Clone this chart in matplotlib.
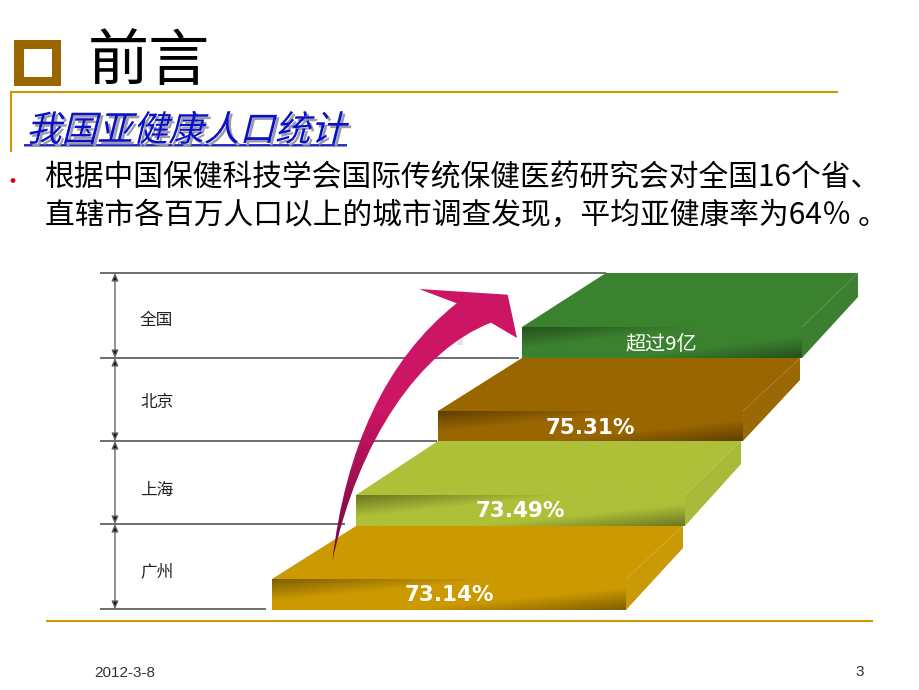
import numpy as np
import matplotlib
matplotlib.use("Agg")
import matplotlib.pyplot as plt
from matplotlib.colors import to_rgb, to_rgba
from matplotlib.patches import Polygon, Rectangle, PathPatch, Circle
from matplotlib.path import Path
from matplotlib.patheffects import AbstractPathEffect
from matplotlib.transforms import Affine2D

CJK = ['Noto Sans CJK SC', 'DejaVu Sans']
plt.rcParams['font.family'] = CJK

# ---- content ----
title = "前言"
subtitle = "我国亚健康人口统计"
body_lines = ["根据中国保健科技学会国际传统保健医药研究会对全国16个省、",
              "直辖市各百万人口以上的城市调查发现，平均亚健康率为64％ 。"]
regions = ["广州", "上海", "北京", "全国"]
step_labels = ["73.14%", "73.49%", "75.31%", "超过9亿"]
footer_date = "2012-3-8"
page_no = "3"

# ---- layout (pixels) ----
step_colors = ["#CC9900", "#AEBF38", "#996600", "#3B822F"]
side_colors = ["#C99A06", "#A9B93A", "#9A6804", "#3C7F30"]
front_x0 = [272, 356, 438, 522]
front_x1 = [626, 685, 743, 802]
front_top = [579, 495, 411, 327]
front_bot = [610, 526, 441, 358]
back_x0 = [356, 438, 522, 606]
back_x1 = [683, 741, 800, 858]
back_y = [526, 441, 358, 273]
side_bot = [548, 464, 380, 297]
label_xc = [449, 520, 590, 661]
label_yc = [595, 511, 428, 344]
guide_y = [609, 524, 441, 358, 273]
guide_x1 = [266, 345, 437, 519, 606]
region_y = [572, 490, 403, 320]

fig = plt.figure(figsize=(9.2, 6.9), dpi=100)
ax = fig.add_axes([0, 0, 1, 1])
ax.set_axis_off()


class Shear(AbstractPathEffect):
    def __init__(self, deg=14, dx=0, dy=0, color=None):
        self.deg, self.dx, self.dy = deg, dx, dy
        self.color = to_rgba(color) if color else None

    def draw_path(self, renderer, gc, tpath, affine, rgbFace=None):
        tr = Affine2D().skew_deg(self.deg, 0) + affine + Affine2D().translate(self.dx, self.dy)
        renderer.draw_path(gc, tpath, tr, self.color if self.color is not None else rgbFace)


# header
ax.add_patch(Rectangle((14, 40), 47, 46, fc="#996600", ec="none"))
ax.add_patch(Rectangle((24, 49), 28, 28, fc="white", ec="none"))
ax.text(88, 63, title, fontsize=44, color="black", ha="left", va="center")
ax.plot([10.5, 838], [91.5, 91.5], color="#CC9900", lw=1.5, solid_capstyle="butt")
ax.plot([11, 11], [91, 152], color="#CC9900", lw=1.5, solid_capstyle="butt")
ax.text(26, 141, subtitle, fontsize=25.6, color="#0A10C8", ha="left", va="baseline",
        path_effects=[Shear(14, 2.5, -2.5, "#9A9AA8"), Shear(14)])
ax.plot([24, 347], [146, 146], color="#9A9AA8", lw=1.5, solid_capstyle="butt")
ax.plot([24, 347], [145, 145], color="#0A10C8", lw=1.2, solid_capstyle="butt")

# body
ax.add_patch(Circle((13, 180.5), 2.4, fc="#E0000A", ec="none"))
ax.text(45, 177, body_lines[0], fontsize=21.4, color="black", ha="left", va="center")
ax.text(45, 215, body_lines[1], fontsize=21.4, color="black", ha="left", va="center")

# guides and dimension arrows
for y, x1 in zip(guide_y, guide_x1):
    ax.plot([100, x1], [y, y], color="#555555", lw=1.2, solid_capstyle="butt", zorder=1)
for top, bot in zip(guide_y[1:], guide_y[:-1]):
    ax.annotate("", xy=(115, top), xytext=(115, bot),
                arrowprops=dict(arrowstyle="<|-|>,head_length=0.45,head_width=0.2",
                                lw=1.0, shrinkA=0, shrinkB=0, ec="#666666", fc="#111111"), zorder=2)
for name, y in zip(regions, region_y):
    ax.text(140, y, name, fontsize=12, color="#222222", ha="left", va="center")


def front_image(color, w=120, h=40):
    rgb = np.array(to_rgb(color))
    u, v = np.meshgrid(np.linspace(0, 1, w), np.linspace(0, 1, h))
    tl = np.clip(1 - (u * 1.6 + v * 1.4), 0, 1)
    br = np.clip(1 - ((1 - u) * 1.6 + (1 - v) * 1.4), 0, 1)
    dark = 0.38 * np.maximum(tl, br)
    return rgb[None, None, :] * (1 - dark[..., None])


# steps
for i in range(len(step_labels)):
    fx0, fx1, ft, fb = front_x0[i], front_x1[i], front_top[i], front_bot[i]
    ax.add_patch(Polygon([(fx0, ft), (back_x0[i], back_y[i]), (back_x1[i], back_y[i]), (fx1, ft)],
                         fc=step_colors[i], ec="none", zorder=3))
    ax.add_patch(Polygon([(fx1, ft), (back_x1[i], back_y[i]), (back_x1[i], side_bot[i]), (fx1, fb)],
                         fc=side_colors[i], ec="none", zorder=3))
    ax.imshow(front_image(step_colors[i]), extent=(fx0, fx1, fb, ft), origin="upper",
              aspect="auto", zorder=3.5, interpolation="bilinear")
    if i < 3:
        ax.text(label_xc[i], label_yc[i], step_labels[i], fontsize=15.5, fontweight="bold",
                family="DejaVu Sans", color="white", ha="center", va="center", zorder=5)
    else:
        ax.text(label_xc[i], label_yc[i], step_labels[i], fontsize=14.5, color="white",
                ha="center", va="center", zorder=5)

# speck
ax.add_patch(Rectangle((457, 338), 6, 7, fc="#E4E4E4", ec="none", zorder=2))

# arrow
verts = [(332.3, 561.7),
         (345, 450), (385, 360), (456.7, 303.3),
         (419, 289), (507.7, 294.7), (517, 338), (491, 322.7),
         (420, 350), (358, 440), (332.3, 561.7),
         (332.3, 561.7)]
codes = [Path.MOVETO,
         Path.CURVE4, Path.CURVE4, Path.CURVE4,
         Path.LINETO, Path.LINETO, Path.LINETO, Path.LINETO,
         Path.CURVE4, Path.CURVE4, Path.CURVE4,
         Path.CLOSEPOLY]
arrow_path = PathPatch(Path(verts, codes), fc="none", ec="none", zorder=4, transform=ax.transData)
ax.add_patch(arrow_path)
ys = np.linspace(0, 1, 200)[:, None]
c_top = np.array(to_rgb("#CC1564"))
c_bot = np.array(to_rgb("#6A0A3E"))
grad = np.clip((ys - 0.45) / 0.55, 0, 1)[..., None]
img = (c_top[None, None, :] * (1 - grad) + c_bot[None, None, :] * grad)
arrow_im = ax.imshow(img, extent=(330, 520, 562, 288), origin="upper", aspect="auto", zorder=4.2)
arrow_im.set_clip_path(arrow_path)

# footer
ax.plot([46, 873], [621, 621], color="#CC9900", lw=1.5, solid_capstyle="butt")
ax.text(94, 673, footer_date, fontsize=11, color="#333333", family="Liberation Sans", ha="left", va="center")
ax.text(860, 672, page_no, fontsize=11, color="#333333", family="Liberation Sans", ha="center", va="center")

ax.set_xlim(0, 920)
ax.set_ylim(690, 0)
fig.savefig("out.png", dpi=100)
